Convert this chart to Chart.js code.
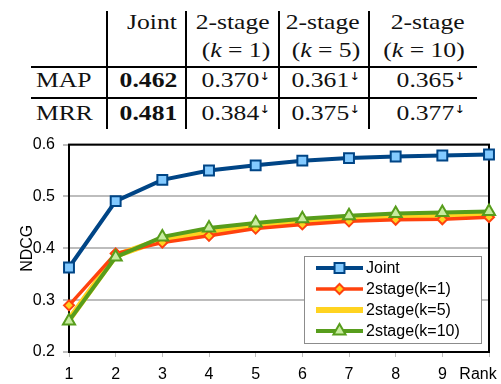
<!DOCTYPE html>
<html lang="en">
<head>
<meta charset="UTF-8">
<title>Joint vs 2-stage NDCG</title>
<style>
    body {
        margin: 0;
        background: #fff;
    }

    #page {
        position: relative;
        width: 501px;
        height: 384px;
        overflow: hidden;
    }

    .rule {
        position: absolute;
        background: #000;
    }

    .cell {
        position: absolute;
        font-family: "Liberation Serif", serif;
        font-size: 21px;
        line-height: 21px;
        white-space: nowrap;
        color: #111;
    }

    .cell .t {
        display: inline-block;
        transform: scaleX(1.22);
        transform-origin: right center;
    }

    .cell.left .t {
        transform-origin: left center;
    }

    .dn {
        font-family: "DejaVu Sans", sans-serif;
        font-size: 11px;
        vertical-align: 7px;
        line-height: 11px;
        color: #000;
    }

    #chart-box {
        position: absolute;
        left: 0;
        top: 127px;
        width: 501px;
        height: 257px;
    }
</style>
</head>
<body>
<div id="page">
    <div id="table"></div>
    <div id="chart-box"><canvas id="plot"></canvas></div>
</div>
<script src="https://cdn.jsdelivr.net/npm/chart.js"></script>
<script>
    // table values
    const tableHeadTop = ['Joint', '2-stage', '2-stage', '2-stage'];
    const tableHeadK = ['', '1', '5', '10'];
    const rowNames = ['MAP', 'MRR'];
    const mapScores = ['0.462', '0.370', '0.361', '0.365'];
    const mrrScores = ['0.481', '0.384', '0.375', '0.377'];

    // chart values
    const ranks = ['1', '2', '3', '4', '5', '6', '7', '8', '9', '10'];
    const xAxisName = 'Rank';
    const yAxisName = 'NDCG';
    const seriesNames = ['Joint', '2stage(k=1)', '2stage(k=5)', '2stage(k=10)'];
    const joint = [0.363, 0.491, 0.532, 0.550, 0.560, 0.569, 0.574, 0.577, 0.579, 0.581];
    const stageK1 = [0.290, 0.390, 0.411, 0.424, 0.438, 0.446, 0.452, 0.455, 0.456, 0.460];
    const stageK5 = [0.262, 0.386, 0.417, 0.432, 0.445, 0.452, 0.458, 0.462, 0.464, 0.467];
    const stageK10 = [0.260, 0.383, 0.422, 0.439, 0.449, 0.457, 0.463, 0.467, 0.469, 0.471];

    // ---- table (latex-like) ----
    const table = document.getElementById('table');
    const colRight = [324, 231, 141, 36];   // css "right" for each value column
    const rowTop = { head1: 12, head2: 39.5, r0: 69.5, r1: 102.5 };

    function addCell(html, top, right, left, bold) {
        const d = document.createElement('div');
        d.className = 'cell' + (left !== null ? ' left' : '');
        d.style.top = top + 'px';
        if (left !== null) d.style.left = left + 'px';
        else d.style.right = right + 'px';
        d.innerHTML = '<span class="t">' + html + '</span>';
        if (bold) d.style.fontWeight = 'bold';
        table.appendChild(d);
    }

    function addRule(x, y, w, h) {
        const r = document.createElement('div');
        r.className = 'rule';
        r.style.left = x + 'px';
        r.style.top = y + 'px';
        r.style.width = w + 'px';
        r.style.height = h + 'px';
        table.appendChild(r);
    }

    tableHeadTop.forEach((h, i) => addCell(h, rowTop.head1, colRight[i], null));
    tableHeadK.forEach((k, i) => {
        if (k) addCell('(<i>k</i> = ' + k + ')', rowTop.head2, colRight[i], null);
    });
    [mapScores, mrrScores].forEach((row, r) => {
        const top = r === 0 ? rowTop.r0 : rowTop.r1;
        addCell(rowNames[r], top, 0, 36);
        row.forEach((v, i) => {
            const txt = i === 0 ? v : v + '<span class="dn">&darr;</span>';
            addCell(txt, top, colRight[i], null, i === 0);
        });
    });

    [106, 185, 278, 368].forEach(x => addRule(x, 11, 2, 118));
    addRule(31, 66, 446, 2);
    addRule(31, 97, 446, 2);

    // ---- chart ----
    const frame = {
        id: 'frame',
        beforeDatasetsDraw(chart) {
            const a = chart.chartArea;
            const ctx = chart.ctx;
            ctx.save();
            ctx.strokeStyle = '#000';
            ctx.lineWidth = 2;
            ctx.strokeRect(a.left, a.top, a.right - a.left, a.bottom - a.top);
            ctx.restore();
        }
    };

    const legendBox = {
        id: 'legendBox',
        afterDraw(chart) {
            const ctx = chart.ctx;
            const a = chart.chartArea;
            const x0 = 304, y0 = a.bottom - 96, w = 177, h = 87;
            ctx.save();
            ctx.fillStyle = '#fff';
            ctx.fillRect(x0, y0, w, h);
            ctx.strokeStyle = '#8c8c8c';
            ctx.lineWidth = 1;
            ctx.strokeRect(x0 + 0.5, y0 + 0.5, w, h);
            ctx.font = '16px "Liberation Sans", Arial, sans-serif';
            ctx.textBaseline = 'middle';
            chart.data.datasets.forEach((ds, i) => {
                const y = y0 + 12 + i * 21;
                ctx.strokeStyle = ds.borderColor;
                ctx.lineWidth = ds.borderWidth;
                ctx.beginPath();
                ctx.moveTo(316, y);
                ctx.lineTo(363, y);
                ctx.stroke();
                if (ds.pointRadius > 0) {
                    ctx.fillStyle = ds.pointBackgroundColor;
                    ctx.strokeStyle = ds.pointBorderColor;
                    ctx.lineWidth = ds.pointBorderWidth;
                    Chart.helpers.drawPoint(ctx, {
                        pointStyle: ds.pointStyle,
                        radius: ds.pointRadius,
                        rotation: 0,
                        borderWidth: ds.pointBorderWidth
                    }, 339.5, y);
                }
                ctx.fillStyle = '#000';
                ctx.fillText(ds.label, 366, y + 1);
            });
            // axis name at the end of the x axis
            ctx.textAlign = 'center';
            ctx.fillText(xAxisName, 478, a.bottom + 23);
            ctx.restore();
        }
    };

    const ctx = document.getElementById('plot').getContext('2d');
    new Chart(ctx, {
        type: 'line',
        data: {
            labels: ranks,
            datasets: [{
                label: seriesNames[0],
                data: joint,
                borderColor: '#004586',
                borderWidth: 4,
                pointStyle: 'rect',
                pointRadius: 7,
                pointBackgroundColor: '#83caff',
                pointBorderColor: '#004586',
                pointBorderWidth: 2,
                order: 0
            }, {
                label: seriesNames[1],
                data: stageK1,
                borderColor: '#ff420e',
                borderWidth: 3.5,
                pointStyle: 'rectRot',
                pointRadius: 5,
                pointBackgroundColor: '#ffd320',
                pointBorderColor: '#ff420e',
                pointBorderWidth: 2,
                order: 2
            }, {
                label: seriesNames[2],
                data: stageK5,
                borderColor: '#ffd320',
                borderWidth: 6,
                pointRadius: 0,
                order: 3
            }, {
                label: seriesNames[3],
                data: stageK10,
                borderColor: '#579d1c',
                borderWidth: 4,
                pointStyle: 'triangle',
                pointRadius: 7,
                pointBackgroundColor: '#c8eca0',
                pointBorderColor: '#579d1c',
                pointBorderWidth: 2,
                order: 1
            }]
        },
        options: {
            responsive: true,
            maintainAspectRatio: false,
            animation: false,
            layout: { padding: { top: 1, right: 12, left: 0, bottom: 0 } },
            plugins: {
                legend: { display: false },
                tooltip: { enabled: false }
            },
            elements: { line: { tension: 0 } },
            scales: {
                x: {
                    grid: { drawOnChartArea: false, color: '#bdbdbd', lineWidth: 1, tickLength: 5 },
                    border: { color: '#000', width: 2 },
                    ticks: {
                        color: '#000',
                        font: { family: '"Liberation Sans", Arial, sans-serif', size: 16 },
                        padding: 8,
                        maxRotation: 0,
                        autoSkip: false,
                        callback: (v, i) => i === ranks.length - 1 ? '' : ranks[i]
                    },
                    afterFit(scale) { scale.height = 32; }
                },
                y: {
                    min: 0.2,
                    max: 0.6,
                    title: {
                        display: true,
                        text: yAxisName,
                        color: '#000',
                        font: { family: '"Liberation Sans", Arial, sans-serif', size: 16 },
                        padding: { top: 18, bottom: 0 }
                    },
                    grid: { color: '#bdbdbd', lineWidth: 2, tickLength: 6 },
                    border: { color: '#000', width: 2 },
                    ticks: {
                        stepSize: 0.1,
                        color: '#000',
                        font: { family: '"Liberation Sans", Arial, sans-serif', size: 16 },
                        padding: 8,
                        callback: v => v.toFixed(1)
                    },
                    afterFit(scale) { scale.width = 69; }
                }
            }
        },
        plugins: [frame, legendBox]
    });
</script>
</body>
</html>
